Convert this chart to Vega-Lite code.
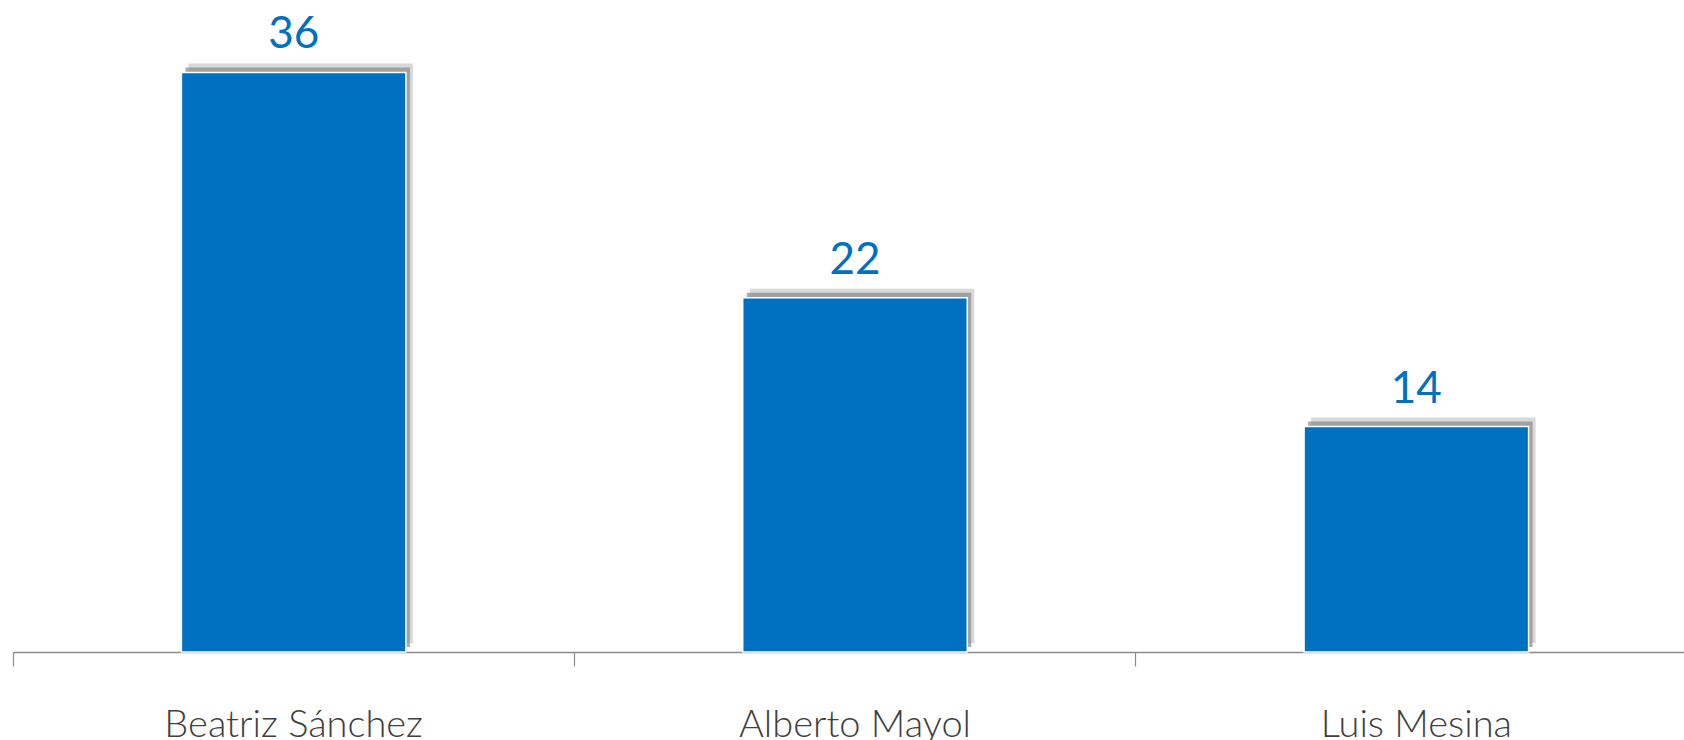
{
  "$schema": "https://vega.github.io/schema/vega-lite/v6.json",
  "width": 1671,
  "height": 644,
  "autosize": {"type": "none"},
  "padding": {"left": 13, "top": 8, "right": 0, "bottom": 88},
  "background": "white",
  "config": {
    "view": {"stroke": null},
    "font": "Lato"
  },
  "data": {
    "values": [
      {"candidato": "Beatriz Sánchez", "valor": 36},
      {"candidato": "Alberto Mayol", "valor": 22},
      {"candidato": "Luis Mesina", "valor": 14}
    ]
  },
  "encoding": {
    "x": {
      "field": "candidato",
      "type": "nominal",
      "sort": null,
      "title": null,
      "scale": {"range": [0, 1684], "paddingInner": 0, "paddingOuter": 0},
      "axis": {
        "bandPosition": 0,
        "domainColor": "#8c8c8c",
        "domainWidth": 1.5,
        "tickColor": "#8c8c8c",
        "tickWidth": 1.2,
        "tickSize": 14,
        "labelAngle": 0,
        "labelBaseline": "alphabetic",
        "labelPadding": 70,
        "labelLimit": 0,
        "labelFontSize": 38,
        "labelFontWeight": 300,
        "labelColor": "#404040",
        "labelFont": "Lato"
      }
    },
    "y": {
      "field": "valor",
      "type": "quantitative",
      "scale": {"domain": [0, 40]},
      "axis": null
    }
  },
  "layer": [
    {
      "mark": {
        "type": "bar",
        "width": {"band": 0.4},
        "color": "#c8c8c8",
        "opacity": 0.7,
        "xOffset": 7,
        "yOffset": -9
      }
    },
    {
      "mark": {
        "type": "bar",
        "width": {"band": 0.4},
        "color": "#8a8a8a",
        "opacity": 0.7,
        "xOffset": 4,
        "yOffset": -5
      }
    },
    {
      "mark": {
        "type": "bar",
        "width": {"band": 0.4},
        "color": "#0070C0",
        "stroke": "white",
        "strokeWidth": 1.5
      }
    },
    {
      "mark": {
        "type": "text",
        "baseline": "alphabetic",
        "dy": -24,
        "fontSize": 44,
        "color": "#0070C0",
        "font": "Lato"
      },
      "encoding": {
        "text": {"field": "valor", "type": "quantitative"}
      }
    }
  ]
}
